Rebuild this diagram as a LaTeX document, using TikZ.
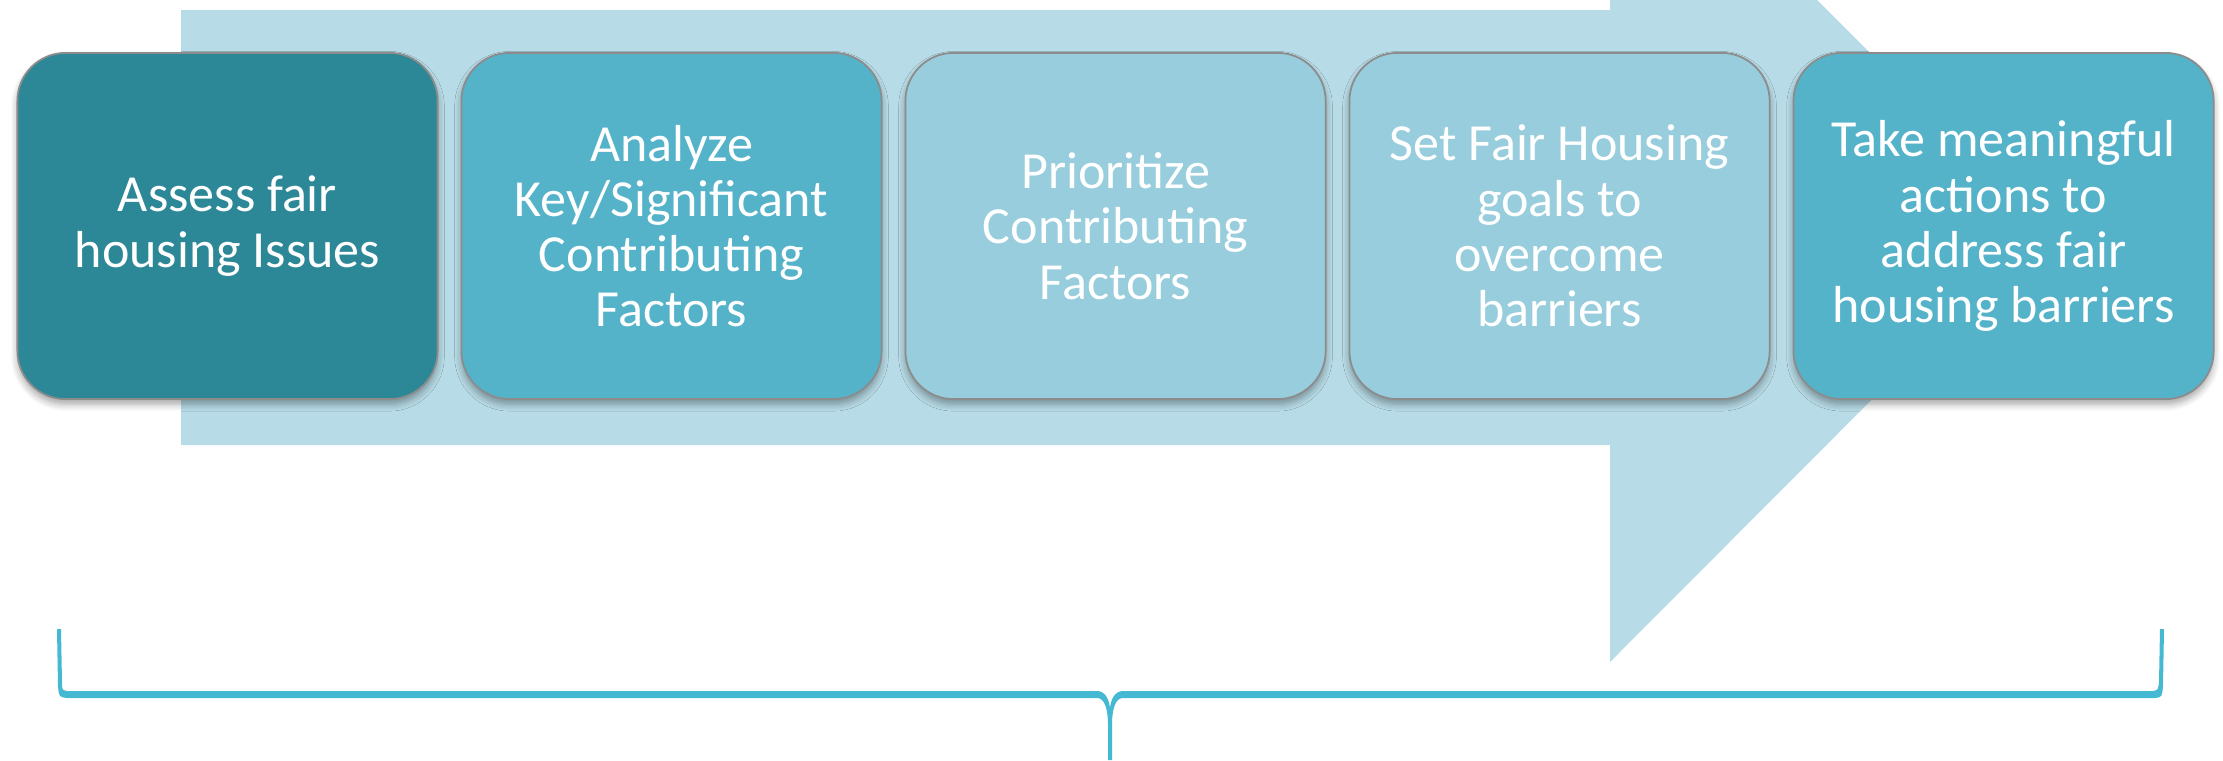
\documentclass[tikz,border=0pt]{standalone}
\usepackage{fontspec}
\setmainfont{Carlito}
\usetikzlibrary{positioning,shadows.blur}
\definecolor{arrowfill}{HTML}{B8DCE7}
\definecolor{darkteal}{HTML}{2C8797}
\definecolor{midteal}{HTML}{54B2C9}
\definecolor{paleteal}{HTML}{97CDDC}
\definecolor{bracefill}{HTML}{45B9D2}
\tikzset{stage box/.style={draw=black!45, line width=0.5pt, rounded corners=0.48cm, minimum width=4.2cm, minimum height=3.46cm, text=white, align=center, font=\fontsize{14.8}{15.7}\selectfont, blur shadow={shadow xshift=0pt, shadow yshift=-1.5pt, shadow blur steps=6, shadow opacity=35}}}

\begin{document}
\begin{tikzpicture}[x=0.01cm, y=-0.01cm, node distance=0.22cm]
\useasboundingbox (0,0) rectangle (2223,760);
\fill[arrowfill] (181,10) -- (1610,10) -- (1610,0) -- (1817,0) -- (2044,227) -- (1610,662) -- (1610,445) -- (181,445) -- cycle;
\node[stage box, fill=darkteal] (assess) at (227.5,226) {Assess fair\\housing Issues};
\node[stage box, fill=midteal, right=of assess] (analyze) {Analyze\\Key/Significant\\Contributing\\Factors};
\node[stage box, fill=paleteal, right=of analyze] (prioritize) {Prioritize\\Contributing\\Factors};
\node[stage box, fill=paleteal, right=of prioritize] (goals) {Set Fair Housing\\goals to\\overcome\\barriers};
\node[stage box, fill=midteal, right=of goals] (actions) {Take meaningful\\actions to\\address fair\\housing barriers};
\fill[bracefill] (57,629) -- (61,629) -- (62,682) .. controls (62,690) .. (67,691)
  -- (1098,691) .. controls (1106,692) and (1109,700) .. (1110,708)
  .. controls (1111,700) and (1114,692) .. (1122,691)
  -- (2153,691) .. controls (2158,690) .. (2159,682) -- (2160,629) -- (2164,629)
  -- (2163,686) .. controls (2162,697) .. (2155,698)
  -- (1122,698) .. controls (1115,699) and (1112,710) .. (1112,725) -- (1112,760)
  -- (1108,760) -- (1108,725) .. controls (1108,710) and (1105,699) .. (1098,698)
  -- (67,698) .. controls (59,697) .. (58,686) -- cycle;
\end{tikzpicture}
\end{document}
